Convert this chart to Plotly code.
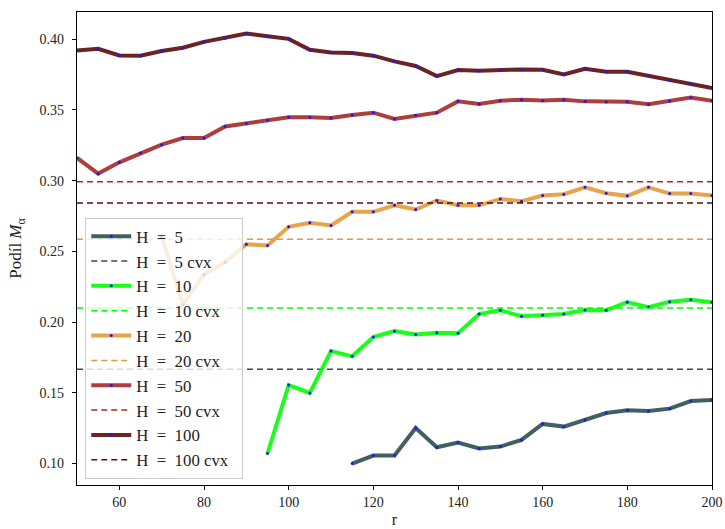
import plotly.graph_objects as go

r = list(range(50, 201, 5))

h100 = [0.392, 0.3933, 0.3886, 0.3884, 0.3917, 0.394, 0.3982, 0.4008, 0.4041, 0.4022,
        0.4003, 0.3926, 0.3907, 0.3903, 0.3884, 0.3844, 0.3811, 0.374, 0.3783, 0.3778,
        0.3783, 0.3787, 0.3785, 0.3751, 0.3792, 0.3771, 0.3771, 0.3742, 0.3712, 0.3688, 0.3655]
h50 = [0.3161, 0.305, 0.313, 0.3196, 0.3255, 0.3302, 0.3302, 0.3384, 0.3405, 0.3427,
       0.3448, 0.3448, 0.3443, 0.3465, 0.3481, 0.3436, 0.3462, 0.3481, 0.3561, 0.3542,
       0.3566, 0.3573, 0.3568, 0.3573, 0.3561, 0.3556, 0.3558, 0.354, 0.3563, 0.3589, 0.3566]
r20 = list(range(70, 201, 5))
h20 = [0.2607, 0.2125, 0.2336, 0.2424, 0.2551, 0.2542, 0.2674, 0.2702, 0.2683, 0.278,
       0.278, 0.2826, 0.2796, 0.286, 0.2826, 0.2826, 0.2871, 0.2855, 0.2895, 0.2904,
       0.2953, 0.2911, 0.2893, 0.2953, 0.2909, 0.2909, 0.2895]
r10 = list(range(95, 201, 5))
h10 = [0.1071, 0.1555, 0.1499, 0.1795, 0.1758, 0.1894, 0.1936, 0.1913, 0.1925, 0.1922,
       0.2057, 0.2083, 0.2042, 0.2049, 0.2057, 0.2085, 0.2083, 0.2141, 0.2106, 0.2144,
       0.2158, 0.2141]
r5 = list(range(115, 201, 5))
h5 = [0.100, 0.1056, 0.1056, 0.1251, 0.1115, 0.1148, 0.1106, 0.112, 0.1167, 0.128,
      0.1261, 0.1308, 0.1357, 0.1376, 0.1371, 0.1388, 0.1442, 0.1449]

cvx = {"5": 0.1666, "10": 0.2099, "20": 0.2586, "50": 0.2992, "100": 0.2843}

colors = {"5": "#2F4F4F", "10": "#00FF00", "20": "#E59B3A", "50": "#A52A2A", "100": "#5A0B0B"}

series = [("5", r5, h5), ("10", r10, h10), ("20", r20, h20), ("50", r, h50), ("100", r, h100)]

NB = "\u00a0"
fig = go.Figure()
for i, (name, xs, ys) in enumerate(series):
    c = colors[name]
    fig.add_trace(go.Scatter(
        x=xs, y=ys, mode="lines+markers", name=f"H{NB} ={NB} {name}",
        line=dict(color=c, width=4), opacity=0.9,
        marker=dict(color="blue", size=3, line=dict(width=0))))
    fig.add_trace(go.Scatter(
        x=[r[0], r[-1]], y=[cvx[name], cvx[name]], mode="lines",
        name=f"H{NB} ={NB} {name} cvx{NB}{NB}",
        line=dict(color=c, width=1.5, dash="6px,4px")))

font = "Liberation Serif"
axis_common = dict(showline=True, mirror=True, linecolor="black", linewidth=1.2,
                   ticks="outside", ticklen=4, tickcolor="black", showgrid=False,
                   zeroline=False, automargin=False,
                   tickfont=dict(family=font, size=14, color="#222"))

fig.update_layout(
    width=725, height=529,
    margin=dict(l=77, r=13, t=12, b=44, autoexpand=False),
    plot_bgcolor="white", paper_bgcolor="white",
    font=dict(family=font, color="#222"),
    xaxis=dict(range=[50, 200], tickvals=[60, 80, 100, 120, 140, 160, 180, 200],
               title=dict(text="r", font=dict(family=font, size=16), standoff=4), **axis_common),
    yaxis=dict(range=[0.0848, 0.4193], tickvals=[0.10, 0.15, 0.20, 0.25, 0.30, 0.35, 0.40],
               tickformat=".2f", ticklabelstandoff=5,
               title=dict(text="Podíl <i>M</i><sub>α</sub>", font=dict(family=font, size=17), standoff=13),
               **axis_common),
    legend=dict(x=0.013, y=0.565, xanchor="left", yanchor="top", itemwidth=40,
                bgcolor="rgba(255,255,255,0.8)", bordercolor="#cccccc", borderwidth=1,
                font=dict(family=font, size=16.8, color="#222"), tracegroupgap=0),
    showlegend=True,
)

fig.write_html("out.html", config={"displayModeBar": False},
               post_script="document.body.style.margin='0';")
